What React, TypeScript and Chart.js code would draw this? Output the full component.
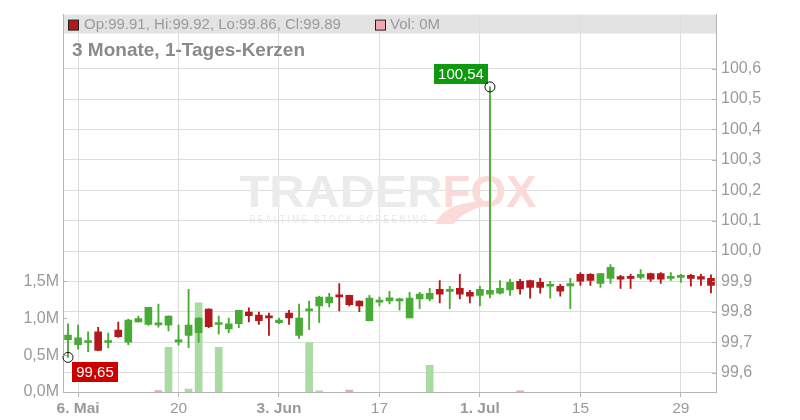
import React, { useEffect, useRef } from 'react';
import { Chart, registerables } from 'chart.js';

Chart.register(...registerables);

// ---------- data ----------
const dates = [
  '2024-05-03',
  '2024-05-06', '2024-05-07', '2024-05-08', '2024-05-09', '2024-05-10',
  '2024-05-13', '2024-05-14', '2024-05-15', '2024-05-16', '2024-05-17',
  '2024-05-20', '2024-05-21', '2024-05-22', '2024-05-23', '2024-05-24',
  '2024-05-27', '2024-05-28', '2024-05-29', '2024-05-30', '2024-05-31',
  '2024-06-03', '2024-06-04', '2024-06-05', '2024-06-06', '2024-06-07',
  '2024-06-10', '2024-06-11', '2024-06-12', '2024-06-13', '2024-06-14',
  '2024-06-17', '2024-06-18', '2024-06-19', '2024-06-20', '2024-06-21',
  '2024-06-24', '2024-06-25', '2024-06-26', '2024-06-27', '2024-06-28',
  '2024-07-01', '2024-07-02', '2024-07-03', '2024-07-04', '2024-07-05',
  '2024-07-08', '2024-07-09', '2024-07-10', '2024-07-11', '2024-07-12',
  '2024-07-15', '2024-07-16', '2024-07-17', '2024-07-18', '2024-07-19',
  '2024-07-22', '2024-07-23', '2024-07-24', '2024-07-25', '2024-07-26',
  '2024-07-29', '2024-07-30', '2024-07-31', '2024-08-01',
];

const openP = [
  99.708, 99.692, 99.699, 99.734, 99.699, 99.740, 99.700, 99.767, 99.758, 99.757,
  99.756, 99.701, 99.722, 99.731, 99.809, 99.758, 99.744, 99.761, 99.799, 99.789,
  99.786, 99.764, 99.796, 99.722, 99.803, 99.819, 99.829, 99.854, 99.854, 99.835,
  99.771, 99.832, 99.836, 99.836, 99.780, 99.842, 99.842, 99.874, 99.867, 99.877,
  99.864, 99.854, 99.858, 99.861, 99.872, 99.900, 99.903, 99.897, 99.884, 99.884,
  99.885, 99.923, 99.923, 99.893, 99.910, 99.916, 99.917, 99.913, 99.926, 99.926,
  99.910, 99.913, 99.920, 99.916, 99.910,
];
const highP = [
  99.760, 99.756, 99.734, 99.749, 99.730, 99.766, 99.776, 99.786, 99.815, 99.825,
  99.787, 99.756, 99.874, 99.780, 99.810, 99.786, 99.779, 99.806, 99.813, 99.799,
  99.796, 99.779, 99.805, 99.825, 99.835, 99.851, 99.861, 99.893, 99.855, 99.836,
  99.854, 99.848, 99.867, 99.845, 99.864, 99.864, 99.877, 99.903, 99.884, 99.923,
  99.871, 99.884, 100.54, 99.903, 99.907, 99.907, 99.904, 99.910, 99.900, 99.890,
  99.910, 99.929, 99.926, 99.926, 99.955, 99.920, 99.923, 99.939, 99.927, 99.929,
  99.929, 99.923, 99.923, 99.923, 99.922,
];
const lowP = [
  99.650, 99.677, 99.669, 99.672, 99.681, 99.716, 99.692, 99.766, 99.755, 99.749,
  99.737, 99.690, 99.682, 99.699, 99.748, 99.727, 99.731, 99.748, 99.767, 99.758,
  99.722, 99.761, 99.758, 99.712, 99.741, 99.764, 99.816, 99.803, 99.819, 99.800,
  99.770, 99.819, 99.826, 99.805, 99.780, 99.810, 99.836, 99.829, 99.810, 99.842,
  99.829, 99.819, 99.846, 99.858, 99.854, 99.858, 99.845, 99.861, 99.845, 99.851,
  99.810, 99.887, 99.887, 99.880, 99.893, 99.877, 99.877, 99.907, 99.900, 99.893,
  99.903, 99.897, 99.884, 99.887, 99.862,
];
const closeP = [
  99.723, 99.714, 99.705, 99.673, 99.705, 99.718, 99.773, 99.778, 99.815, 99.761,
  99.786, 99.708, 99.756, 99.779, 99.751, 99.763, 99.760, 99.805, 99.787, 99.771,
  99.780, 99.773, 99.780, 99.779, 99.809, 99.848, 99.848, 99.849, 99.823, 99.819,
  99.845, 99.836, 99.846, 99.842, 99.845, 99.858, 99.861, 99.858, 99.872, 99.858,
  99.851, 99.874, 99.871, 99.877, 99.897, 99.875, 99.880, 99.880, 99.887, 99.868,
  99.893, 99.901, 99.903, 99.926, 99.946, 99.907, 99.910, 99.923, 99.907, 99.907,
  99.916, 99.920, 99.910, 99.907, 99.887,
];
const volume = [
  0, 0, 0, 0, 0, 0, 0, 0, 0, 20000,
  605000, 0, 40000, 1210000, 0, 605000, 0, 0, 0, 0,
  0, 0, 0, 0, 672000, 15000, 0, 0, 25000, 0,
  0, 0, 0, 0, 0, 0, 363000, 0, 0, 0,
  0, 0, 0, 0, 0, 15000, 0, 0, 0, 0,
  0, 0, 0, 0, 0, 0, 0, 0, 0, 0,
  0, 0, 0, 0, 0,
];

const xTickDates = ['2024-05-06', '2024-05-20', '2024-06-03', '2024-06-17', '2024-07-01', '2024-07-15', '2024-07-29'];
const xTickLabels = ['6. Mai', '20', '3. Jun', '17', '1. Jul', '15', '29'];
const priceTicks = [99.6, 99.7, 99.8, 99.9, 100.0, 100.1, 100.2, 100.3, 100.4, 100.5, 100.6];
const volumeTicks = [0, 500000, 1000000, 1500000];

const title = '3 Monate, 1-Tages-Kerzen';

// ---------- styles ----------
const FONT = "'Liberation Sans', Arial, sans-serif";
const GREEN = '#48ab35';
const RED = '#b3181b';
const VOL_GREEN = '#aadca2';
const VOL_RED = '#f3a6af';
const GRID = '#dddddd';
const AXIS = '#b4b4b4';
const TICK_TEXT = '#9a9a9a';

const fmtComma = (v: number, d: number) => v.toFixed(d).replace('.', ',');

export default function App() {
  const canvasRef = useRef<HTMLCanvasElement | null>(null);

  useEffect(() => {
    const canvas = canvasRef.current;
    if (!canvas) return;
    const n = dates.length;
    const idx = dates.map((_, i) => i);
    const candleColors = idx.map((i) => (closeP[i] >= openP[i] ? GREEN : RED));
    const volColors = idx.map((i) => (i > 0 && closeP[i] < closeP[i - 1] ? VOL_RED : VOL_GREEN));
    const tickIdx = xTickDates.map((d) => dates.indexOf(d));

    const deco = {
      id: 'deco',
      beforeDraw(chart: any) {
        const { ctx, chartArea: a } = chart;
        ctx.save();
        ctx.fillStyle = '#e3e3e3';
        ctx.fillRect(a.left, a.top, a.right - a.left, 19);
        ctx.restore();
      },
      beforeDatasetsDraw(chart: any) {
        const { ctx, chartArea: a } = chart;
        const cx = (a.left + a.right) / 2;
        ctx.save();
        ctx.font = `bold 44px ${FONT}`;
        ctx.textBaseline = 'alphabetic';
        ctx.textAlign = 'left';
        const left = cx - 150;
        const base = 207;
        const w1 = ctx.measureText('TRADER').width;
        ctx.save();
        ctx.translate(left, base);
        ctx.scale(203 / w1, 1);
        ctx.fillStyle = '#ebebeb';
        ctx.fillText('TRADER', 0, 0);
        ctx.restore();
        const w2 = ctx.measureText('FOX').width;
        ctx.save();
        ctx.translate(left + 203, base);
        ctx.scale(94 / w2, 1);
        ctx.fillStyle = '#fbdada';
        ctx.fillText('FOX', 0, 0);
        ctx.restore();
        // tail swoosh
        ctx.fillStyle = '#fbdada';
        ctx.beginPath();
        ctx.moveTo(left + 196, base + 17);
        ctx.quadraticCurveTo(left + 205, base - 8, left + 262, base - 6);
        ctx.quadraticCurveTo(left + 225, base + 2, left + 214, base + 17);
        ctx.closePath();
        ctx.fill();
        // subtitle
        ctx.font = `10px ${FONT}`;
        (ctx as any).letterSpacing = '3px';
        const w3 = ctx.measureText('REALTIME STOCK SCREENING').width;
        ctx.save();
        ctx.translate(left + 10, base + 16);
        ctx.scale(180 / w3, 1);
        ctx.fillStyle = '#e6e6e6';
        ctx.fillText('REALTIME STOCK SCREENING', 0, 0);
        ctx.restore();
        ctx.restore();
      },
      afterDatasetsDraw(chart: any) {
        const { ctx } = chart;
        const xs = chart.scales.x;
        const ys = chart.scales.y;
        ctx.save();
        ctx.font = `15px ${FONT}`;
        ctx.textBaseline = 'middle';
        ctx.textAlign = 'center';
        // max marker
        const maxV = Math.max(...highP);
        const iMax = highP.indexOf(maxV);
        let px = xs.getPixelForValue(iMax);
        let py = ys.getPixelForValue(maxV);
        let txt = fmtComma(maxV, 2);
        let tw = ctx.measureText(txt).width;
        let bw = tw + 8;
        const bh = 20;
        let bx = px - 2 - bw;
        let by = py - 3 - bh;
        ctx.fillStyle = '#0f990f';
        ctx.fillRect(Math.round(bx), Math.round(by), Math.round(bw), bh);
        ctx.fillStyle = '#ffffff';
        ctx.fillText(txt, Math.round(bx) + Math.round(bw) / 2, Math.round(by) + bh / 2 + 0.5);
        ctx.beginPath();
        ctx.arc(px, py, 5, 0, Math.PI * 2);
        ctx.strokeStyle = '#111';
        ctx.lineWidth = 1;
        ctx.stroke();
        // min marker
        const minV = Math.min(...lowP);
        const iMin = lowP.indexOf(minV);
        px = xs.getPixelForValue(iMin);
        py = ys.getPixelForValue(minV);
        txt = fmtComma(minV, 2);
        tw = ctx.measureText(txt).width;
        bw = tw + 8;
        bx = px + 4;
        by = py + 5;
        ctx.fillStyle = '#cc0000';
        ctx.fillRect(Math.round(bx), Math.round(by), Math.round(bw), bh);
        ctx.fillStyle = '#ffffff';
        ctx.fillText(txt, Math.round(bx) + Math.round(bw) / 2, Math.round(by) + bh / 2 + 0.5);
        ctx.beginPath();
        ctx.arc(px, py, 5, 0, Math.PI * 2);
        ctx.strokeStyle = '#111';
        ctx.stroke();
        ctx.restore();
      },
      afterDraw(chart: any) {
        const { ctx, chartArea: a } = chart;
        const ys = chart.scales.y;
        const yv = chart.scales.yVol;
        ctx.save();
        // inward tick marks
        ctx.strokeStyle = AXIS;
        ctx.lineWidth = 1;
        ctx.beginPath();
        priceTicks.forEach((v) => {
          const y = Math.round(ys.getPixelForValue(v)) + 0.5;
          ctx.moveTo(a.right - 4, y);
          ctx.lineTo(a.right, y);
        });
        volumeTicks.forEach((v) => {
          const y = Math.round(yv.getPixelForValue(v)) + 0.5;
          ctx.moveTo(a.left, y);
          ctx.lineTo(a.left + 4, y);
        });
        ctx.stroke();
        // legend row
        const last = dates.length - 1;
        ctx.fillStyle = closeP[last] >= openP[last] ? GREEN : RED;
        ctx.fillRect(a.left + 5.5, a.top + 5.5, 10, 10);
        ctx.strokeStyle = '#222';
        ctx.strokeRect(a.left + 5.5, a.top + 5.5, 10, 10);
        ctx.font = `15px ${FONT}`;
        ctx.textBaseline = 'middle';
        ctx.textAlign = 'left';
        ctx.fillStyle = '#9a9a9a';
        const ohlc = `Op:${openP[last].toFixed(2)}, Hi:${highP[last].toFixed(2)}, Lo:${lowP[last].toFixed(2)}, Cl:${closeP[last].toFixed(2)}`;
        ctx.fillText(ohlc, a.left + 21, a.top + 10.5);
        ctx.fillStyle = VOL_RED;
        ctx.fillRect(a.left + 312.5, a.top + 5.5, 10, 10);
        ctx.strokeRect(a.left + 312.5, a.top + 5.5, 10, 10);
        ctx.fillStyle = '#9a9a9a';
        ctx.fillText(`Vol: ${volume[last] / 1e6}M`, a.left + 327, a.top + 10.5);
        // title
        ctx.font = `bold 19px ${FONT}`;
        ctx.fillStyle = '#8a8a8a';
        ctx.fillText(title, a.left + 9, a.top + 36);
        ctx.restore();
      },
    };

    const chart = new Chart(canvas, {
      type: 'bar',
      data: {
        datasets: [
          {
            label: 'Volumen',
            data: idx.map((i) => ({ x: i, y: volume[i] > 0 ? volume[i] : null })),
            yAxisID: 'yVol',
            backgroundColor: volColors,
            barThickness: 7,
            grouped: false,
            order: 3,
          } as any,
          {
            label: 'Docht',
            data: idx.map((i) => ({ x: i, y: [lowP[i], highP[i]] })),
            yAxisID: 'y',
            backgroundColor: candleColors,
            barThickness: 1.2,
            minBarLength: 1,
            grouped: false,
            order: 2,
          } as any,
          {
            label: 'Kerze',
            data: idx.map((i) => ({ x: i, y: [openP[i], closeP[i]] })),
            yAxisID: 'y',
            backgroundColor: candleColors,
            barThickness: 7,
            minBarLength: 2,
            grouped: false,
            order: 1,
          } as any,
        ],
      },
      options: {
        animation: false,
        responsive: true,
        maintainAspectRatio: false,
        layout: { padding: { top: 11, left: 0, right: 0, bottom: 0 } },
        plugins: { legend: { display: false }, tooltip: { enabled: false } },
        scales: {
          x: {
            type: 'linear',
            min: -0.5,
            max: n - 0.5,
            offset: false,
            afterBuildTicks: (s: any) => {
              s.ticks = tickIdx.map((v) => ({ value: v }));
            },
            afterFit: (s: any) => {
              s.height = 28;
            },
            ticks: {
              autoSkip: false,
              maxRotation: 0,
              padding: 2,
              color: TICK_TEXT,
              font: (c: any) => {
                const k = tickIdx.indexOf(c.tick ? c.tick.value : -1);
                const lbl = k >= 0 ? xTickLabels[k] : '';
                return { family: FONT, size: 15.5, weight: lbl.includes('.') ? 'bold' : 'normal' };
              },
              callback: (v: any) => {
                const k = tickIdx.indexOf(Number(v));
                return k >= 0 ? xTickLabels[k] : '';
              },
            },
            grid: { color: GRID, offset: false, drawTicks: true, tickLength: 5, tickColor: AXIS },
            border: { display: true, color: AXIS },
          } as any,
          y: {
            type: 'linear',
            position: 'right',
            min: 99.536,
            max: 100.778,
            beginAtZero: false,
            afterBuildTicks: (s: any) => {
              s.ticks = priceTicks.map((v) => ({ value: v }));
            },
            afterFit: (s: any) => {
              s.width = 84;
            },
            ticks: {
              padding: 5,
              color: TICK_TEXT,
              font: { family: FONT, size: 16 },
              callback: (v: any) => fmtComma(Number(v), 1),
            },
            grid: { color: GRID, drawTicks: false },
            border: { display: true, color: AXIS },
          } as any,
          yVol: {
            type: 'linear',
            position: 'left',
            min: 0,
            max: 5120000,
            afterBuildTicks: (s: any) => {
              s.ticks = volumeTicks.map((v) => ({ value: v }));
            },
            afterFit: (s: any) => {
              s.width = 63;
            },
            ticks: {
              padding: 4,
              color: TICK_TEXT,
              font: { family: FONT, size: 16 },
              callback: (v: any) => fmtComma(Number(v) / 1e6, 1) + 'M',
            },
            grid: { display: false, drawTicks: false },
            border: { display: true, color: AXIS },
          } as any,
        },
      },
      plugins: [deco],
    });

    return () => chart.destroy();
  }, []);

  return (
    <div style={{ position: 'fixed', left: 0, top: 0, width: 800, height: 420, background: '#fff' }}>
      <canvas ref={canvasRef} />
    </div>
  );
}
